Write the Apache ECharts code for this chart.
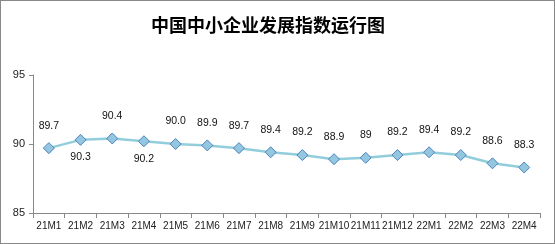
<!DOCTYPE html>
<html><head><meta charset="utf-8">
<script src="https://cdn.jsdelivr.net/npm/echarts@6/dist/echarts.min.js"></script>
<style>html,body{margin:0;padding:0;background:#fff}#c{width:555px;height:244px;box-sizing:border-box;border:1px solid #888}</style>
</head><body><div id="c"></div>
<script>
const categories=['21M1','21M2','21M3','21M4','21M5','21M6','21M7','21M8','21M9','21M10','21M11','21M12','22M1','22M2','22M3','22M4'];
const values=[89.7,90.3,90.4,90.2,90.0,89.9,89.7,89.4,89.2,88.9,89.0,89.2,89.4,89.2,88.6,88.3];
const labelTexts=['89.7','90.3','90.4','90.2','90.0','89.9','89.7','89.4','89.2','88.9','89','89.2','89.4','89.2','88.6','88.3'];
const labelBelow=[false,true,false,true,false,false,false,false,false,false,false,false,false,false,false,false];
const yTicks=[85,90,95];
const chart=echarts.init(document.getElementById('c'),null,{renderer:'canvas'});
chart.setOption({
  animation:false,
  title:{text:'中国中小企业发展指数运行图',left:262,top:10,textAlign:'center',textStyle:{fontFamily:'Noto Sans CJK SC',fontWeight:'bold',fontSize:18,color:'#000'}},
  grid:{left:32,right:14,top:74,bottom:30},
  xAxis:{type:'category',data:categories,boundaryGap:true,
    axisLine:{lineStyle:{color:'#888'}},
    axisTick:{show:true,interval:0,length:5,lineStyle:{color:'#888'}},
    axisLabel:{interval:0,fontSize:10,color:'#222',fontFamily:'Liberation Sans',margin:8}},
  yAxis:{type:'value',min:85,max:95,interval:5,
    axisLine:{show:true,lineStyle:{color:'#888'}},
    axisTick:{show:true,length:4,lineStyle:{color:'#888'}},
    splitLine:{show:false},
    axisLabel:{fontSize:11,color:'#222',fontFamily:'Liberation Sans',margin:8}},
  series:[{type:'line',data:values.map((v,i)=>({value:v,label:{position:labelBelow[i]?'bottom':'top',distance:labelBelow[i]?6:11,formatter:labelTexts[i]}})),
    symbol:'diamond',symbolSize:11,
    lineStyle:{color:'#92cddc',width:2.5},
    itemStyle:{color:'#93c6df',borderColor:'#4f81bd',borderWidth:1},
    label:{show:true,fontSize:10.5,color:'#111',fontFamily:'Liberation Sans'}}]
});
</script></body></html>
